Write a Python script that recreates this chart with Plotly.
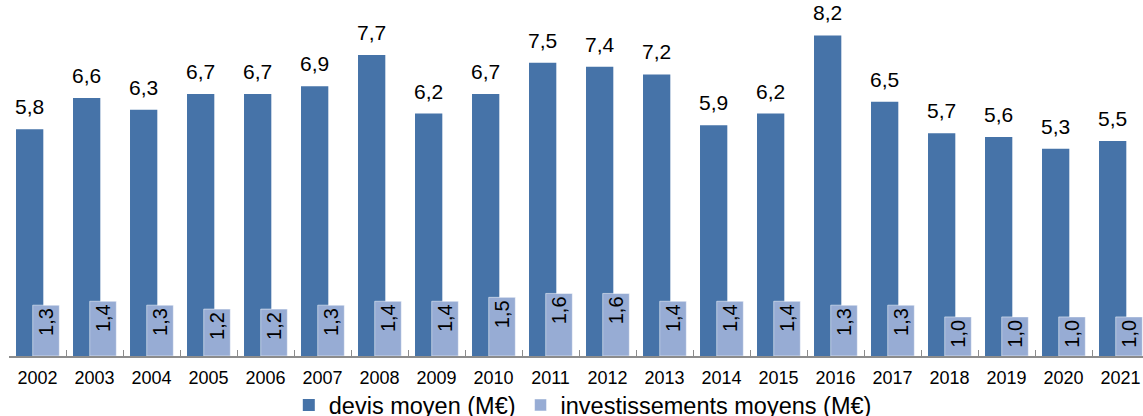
import plotly.graph_objects as go

years = [str(y) for y in range(2002, 2022)]
devis = [5.8, 6.6, 6.3, 6.7, 6.7, 6.9, 7.7, 6.2, 6.7, 7.5, 7.4, 7.2, 5.9, 6.2, 8.2, 6.5, 5.7, 5.6, 5.3, 5.5]
invest = [1.3, 1.4, 1.3, 1.2, 1.2, 1.3, 1.4, 1.4, 1.5, 1.6, 1.6, 1.4, 1.4, 1.4, 1.3, 1.3, 1.0, 1.0, 1.0, 1.0]

DARK = "#4673A8"
LIGHT = "#97ACD4"
FONT = "Liberation Sans, Arial, sans-serif"

idx = list(range(len(years)))
dark_off, dark_w = -0.377, 0.479
light_off, light_w = -0.084, 0.467

fig = go.Figure()
fig.add_trace(go.Bar(
    x=years, y=devis, name="devis moyen (M€)",
    offset=dark_off, width=dark_w,
    marker=dict(color=DARK, line=dict(width=0)),
    hoverinfo="skip",
))
fig.add_trace(go.Bar(
    x=years, y=invest, name="investissements moyens (M€)",
    offset=light_off, width=light_w,
    marker=dict(color=LIGHT, line=dict(color="rgba(255,255,255,0.5)", width=1)),
    texttemplate="%{y:.1f}", textposition="inside", insidetextanchor="end",
    textangle=-90, textfont=dict(family=FONT, size=20, color="black"),
    constraintext="none", cliponaxis=False,
    hoverinfo="skip",
))
# labels for devis, centred on the dark bars
fig.add_trace(go.Scatter(
    x=[i + dark_off + dark_w / 2 for i in idx], y=devis, xaxis="x2",
    mode="markers+text", text=[f"{v:.1f}".replace(".", ",") for v in devis],
    textposition="top center", marker=dict(size=14, opacity=0),
    textfont=dict(family=FONT, size=21, color="black"),
    showlegend=False, hoverinfo="skip", cliponaxis=False,
))

xr = [-0.5, -0.5 + 1134 / 57]
fig.update_layout(
    width=1143, height=416,
    margin=dict(l=9, r=0, t=0, b=60, autoexpand=False),
    paper_bgcolor="white", plot_bgcolor="white",
    barmode="overlay", separators=", ",
    font=dict(family=FONT, size=18, color="black"),
    xaxis=dict(type="category", range=xr, showgrid=False, zeroline=False,
               showline=True, linecolor="#8c8c8c", linewidth=2,
               ticks="inside", tickson="boundaries", ticklen=6,
               tickcolor="#8c8c8c", tickwidth=1, automargin=False,
               tickfont=dict(family=FONT, size=18, color="black"),
               ticklabelstandoff=4),
    xaxis2=dict(overlaying="x", range=xr, visible=False),
    yaxis=dict(range=[0, 356 / 39.1], visible=False, showgrid=False),
    showlegend=True,
    legend=dict(orientation="h", x=0.506, xanchor="center",
                y=0.026, yref="container", yanchor="middle",
                font=dict(family=FONT, size=23.5, color="black"),
                itemwidth=30, traceorder="normal", bgcolor="rgba(0,0,0,0)"),
)
fig.write_html("out.html", config={"displayModeBar": False},
               post_script="document.body.style.margin='0';document.body.style.overflow='hidden';")
